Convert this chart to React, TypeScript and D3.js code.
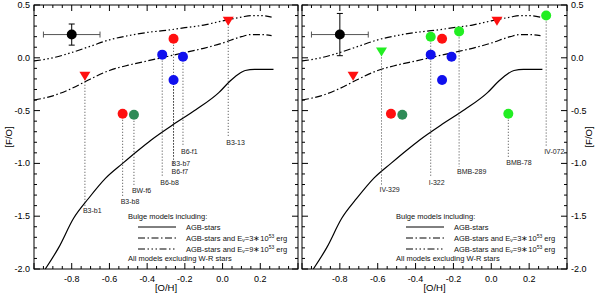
import React from "react";
import * as d3 from "d3";

// model curves, [O/H] vs [F/O]
const agbOH = [-0.94, -0.87, -0.79, -0.71, -0.62, -0.53, -0.45, -0.38, -0.26, -0.14, -0.02, 0.04, 0.08, 0.12, 0.17, 0.27];
const agbFO = [-2.0, -1.8, -1.52, -1.33, -1.14, -1.0, -0.88, -0.78, -0.63, -0.49, -0.33, -0.22, -0.16, -0.12, -0.11, -0.11];
const e3OH = [-1.0, -0.9, -0.8, -0.7, -0.6, -0.5, -0.4, -0.3, -0.2, -0.1, 0.0, 0.1, 0.15, 0.2, 0.26];
const e3FO = [-0.4, -0.36, -0.29, -0.2, -0.12, -0.07, -0.03, 0.01, 0.05, 0.09, 0.14, 0.2, 0.22, 0.22, 0.21];
const e9OH = [-1.0, -0.9, -0.8, -0.7, -0.6, -0.5, -0.4, -0.3, -0.2, -0.1, 0.0, 0.1, 0.15, 0.2, 0.26];
const e9FO = [-0.03, 0.0, 0.05, 0.11, 0.17, 0.21, 0.24, 0.26, 0.285, 0.31, 0.35, 0.385, 0.4, 0.4, 0.385];

// left panel objects
const leftNames = ["B3-b1", "B3-b8", "BW-f6", "B6-b8", "B6-f7", "B3-b7", "B6-f1", "B3-13"];
const leftGroup = ["A", "B", "C", "D", "B", "D", "D", "A"];
const leftOH = [-0.73, -0.53, -0.47, -0.32, -0.26, -0.26, -0.21, 0.03];
const leftFO = [-0.17, -0.53, -0.54, 0.03, 0.18, -0.21, 0.01, 0.35];
const leftLabelFO = [-1.45, -1.36, -1.26, -1.18, -1.08, -1.0, -0.89, -0.8];

// right panel objects ("" = no label)
const rightNames = ["", "IV-329", "", "", "I-322", "", "", "", "", "BMB-289", "", "BMB-78", "IV-072"];
const rightGroup = ["A", "F", "B", "C", "E", "D", "B", "D", "D", "E", "A", "E", "E"];
const rightOH = [-0.73, -0.58, -0.53, -0.47, -0.32, -0.32, -0.26, -0.26, -0.21, -0.17, 0.03, 0.09, 0.29];
const rightFO = [-0.17, 0.06, -0.53, -0.54, 0.2, 0.03, 0.18, -0.21, 0.01, 0.25, 0.35, -0.53, 0.4];
const rightLabelFO = [0, -1.25, 0, 0, -1.18, 0, 0, 0, 0, -1.08, 0, -0.99, -0.89];

// typical error point
const errOH = -0.8;
const errFO = 0.22;
const errDOH = 0.15;
const errDFO = [0.1, 0.2];

const xTicks = [-0.8, -0.6, -0.4, -0.2, 0.0, 0.2];
const yTicks = [0.5, 0.0, -0.5, -1.0, -1.5, -2.0];

const groupStyle: Record<string, { color: string; shape: string }> = {
  A: { color: "#ff1010", shape: "tri" },
  B: { color: "#ff1010", shape: "circ" },
  C: { color: "#2e8b57", shape: "circ" },
  D: { color: "#1010ee", shape: "circ" },
  E: { color: "#22ee22", shape: "circ" },
  F: { color: "#22ee22", shape: "tri" },
};

const font = "'Liberation Sans', Arial, sans-serif";
const fmt = (v: number) => (v < 0 ? "-" : "") + Math.abs(v).toFixed(1);

const y = d3.scaleLinear().domain([-2.0, 0.5]).range([269, 5]);

const Panel = ({ x0, x1, side, names, group, oh, fo, labelFO, dfo }: any) => {
  const x = d3.scaleLinear().domain([-1.0, 0.4]).range([x0, x1]);
  const line = d3.line<[number, number]>().x(d => x(d[0])).y(d => y(d[1])).curve(d3.curveMonotoneX);
  const zip = (a: number[], b: number[]) => a.map((v, i) => [v, b[i]] as [number, number]);
  const y0 = y(-2.0), y1 = y(0.5);

  const xMinor = d3.range(-1.0, 0.4001, 0.05);
  const yMinor = d3.range(-2.0, 0.5001, 0.1);
  const isMajorX = (v: number) => Math.abs(v * 5 - Math.round(v * 5)) < 1e-6;
  const isMajorY = (v: number) => Math.abs(v * 2 - Math.round(v * 2)) < 1e-6;

  const lx = x0 + 104, tx = x0 + 152, hx = x0 + 94;
  const legendRows = [
    { y: 227, dash: "none", parts: "" },
    { y: 238, dash: "7,2.5,1.5,2.5", parts: "3" },
    { y: 249, dash: "7,2.5,1.5,2.5,1.5,2.5,1.5,2.5", parts: "9" },
  ];

  return (
    <g>
      <path d={line(zip(agbOH, agbFO)) || ""} fill="none" stroke="#000" strokeWidth={1.2} />
      <path d={line(zip(e3OH, e3FO)) || ""} fill="none" stroke="#000" strokeWidth={1.2} strokeDasharray="7,2.5,1.5,2.5" />
      <path d={line(zip(e9OH, e9FO)) || ""} fill="none" stroke="#000" strokeWidth={1.2} strokeDasharray="7,2.5,1.5,2.5,1.5,2.5,1.5,2.5" />

      {names.map((n: string, i: number) =>
        n ? (
          <line key={"d" + i} x1={x(oh[i])} x2={x(oh[i])} y1={y(fo[i])} y2={y(labelFO[i]) - 5}
            stroke="#444" strokeWidth={1} strokeDasharray="1,2" />
        ) : null
      )}

      {oh.map((v: number, i: number) => {
        const st = groupStyle[group[i]];
        const cx = x(v), cy = y(fo[i]);
        return st.shape === "tri" ? (
          <path key={"m" + i} d={`M${cx - 5.5},${cy - 4}L${cx + 5.5},${cy - 4}L${cx},${cy + 5}Z`} fill={st.color} />
        ) : (
          <circle key={"m" + i} cx={cx} cy={cy} r={5} fill={st.color} />
        );
      })}

      {names.map((n: string, i: number) =>
        n ? (
          <text key={"l" + i} x={x(oh[i]) - 2} y={y(labelFO[i]) + 2.5} fontSize={7} fontFamily={font} fill="#222">{n}</text>
        ) : null
      )}

      <g stroke="#000" strokeWidth={1}>
        <line x1={x(errOH - errDOH)} x2={x(errOH + errDOH)} y1={y(errFO)} y2={y(errFO)} stroke="#555" />
        <line x1={x(errOH - errDOH)} x2={x(errOH - errDOH)} y1={y(errFO) - 3} y2={y(errFO) + 3} stroke="#555" />
        <line x1={x(errOH + errDOH)} x2={x(errOH + errDOH)} y1={y(errFO) - 3} y2={y(errFO) + 3} stroke="#555" />
        <line x1={x(errOH)} x2={x(errOH)} y1={y(errFO + dfo)} y2={y(errFO - dfo)} />
        <line x1={x(errOH) - 3} x2={x(errOH) + 3} y1={y(errFO + dfo)} y2={y(errFO + dfo)} />
        <line x1={x(errOH) - 3} x2={x(errOH) + 3} y1={y(errFO - dfo)} y2={y(errFO - dfo)} />
      </g>
      <circle cx={x(errOH)} cy={y(errFO)} r={5} fill="#000" />

      <g fontFamily={font} fontSize={7.5} fill="#111">
        <text x={hx} y={219}>Bulge models including:</text>
        {legendRows.map((r, i) => (
          <g key={i}>
            <line x1={lx} x2={lx + 38} y1={r.y} y2={r.y} stroke="#000" strokeWidth={1} strokeDasharray={r.dash} />
            {r.parts ? (
              <text x={tx} y={r.y + 2.5}>
                AGB-stars and E<tspan fontSize={5} dy={1.5}>ν</tspan>
                <tspan dy={-1.5}>={r.parts}∗10</tspan>
                <tspan fontSize={5} dy={-3}>53</tspan>
                <tspan dy={3}> erg</tspan>
              </text>
            ) : (
              <text x={tx} y={r.y + 2.5}>AGB-stars</text>
            )}
          </g>
        ))}
        <text x={hx} y={261}>All models excluding W-R stars</text>
      </g>

      <rect x={x0} y={y1} width={x1 - x0} height={y0 - y1} fill="none" stroke="#000" strokeWidth={1} />
      <g stroke="#000" strokeWidth={1}>
        {xMinor.map((v, i) => {
          const L = isMajorX(v) ? 6 : 3;
          return (
            <g key={"xt" + i}>
              <line x1={x(v)} x2={x(v)} y1={y0} y2={y0 - L} />
              <line x1={x(v)} x2={x(v)} y1={y1} y2={y1 + L} />
            </g>
          );
        })}
        {yMinor.map((v, i) => {
          const L = isMajorY(v) ? 6 : 3;
          return (
            <g key={"yt" + i}>
              <line x1={x0} x2={x0 + L} y1={y(v)} y2={y(v)} />
              <line x1={x1} x2={x1 - L} y1={y(v)} y2={y(v)} />
            </g>
          );
        })}
      </g>

      <g fontFamily={font} fontSize={9} fill="#000">
        {xTicks.map(v => (
          <text key={"xl" + v} x={x(v)} y={282} textAnchor="middle">{fmt(v)}</text>
        ))}
        {yTicks.map(v => (
          <text key={"yl" + v} x={side === "left" ? x0 - 4 : x1 + 4} y={y(v) + 3}
            textAnchor={side === "left" ? "end" : "start"}>{fmt(v)}</text>
        ))}
        <text x={(x0 + x1) / 2} y={291} textAnchor="middle" fontSize={9.5}>[O/H]</text>
        <text transform={`translate(${side === "left" ? 12 : 592},${(y0 + y1) / 2}) rotate(-90)`}
          textAnchor="middle" fontSize={9.5}>[F/O]</text>
      </g>
    </g>
  );
};

const App = () => (
  <svg width={600} height={293} style={{ position: "absolute", left: 0, top: 0, background: "#fff" }}>
    <rect width={600} height={293} fill="#fff" />
    <Panel x0={34} x1={298} side="left" names={leftNames} group={leftGroup} oh={leftOH} fo={leftFO}
      labelFO={leftLabelFO} dfo={errDFO[0]} />
    <Panel x0={302} x1={567} side="right" names={rightNames} group={rightGroup} oh={rightOH} fo={rightFO}
      labelFO={rightLabelFO} dfo={errDFO[1]} />
  </svg>
);

export default App;
